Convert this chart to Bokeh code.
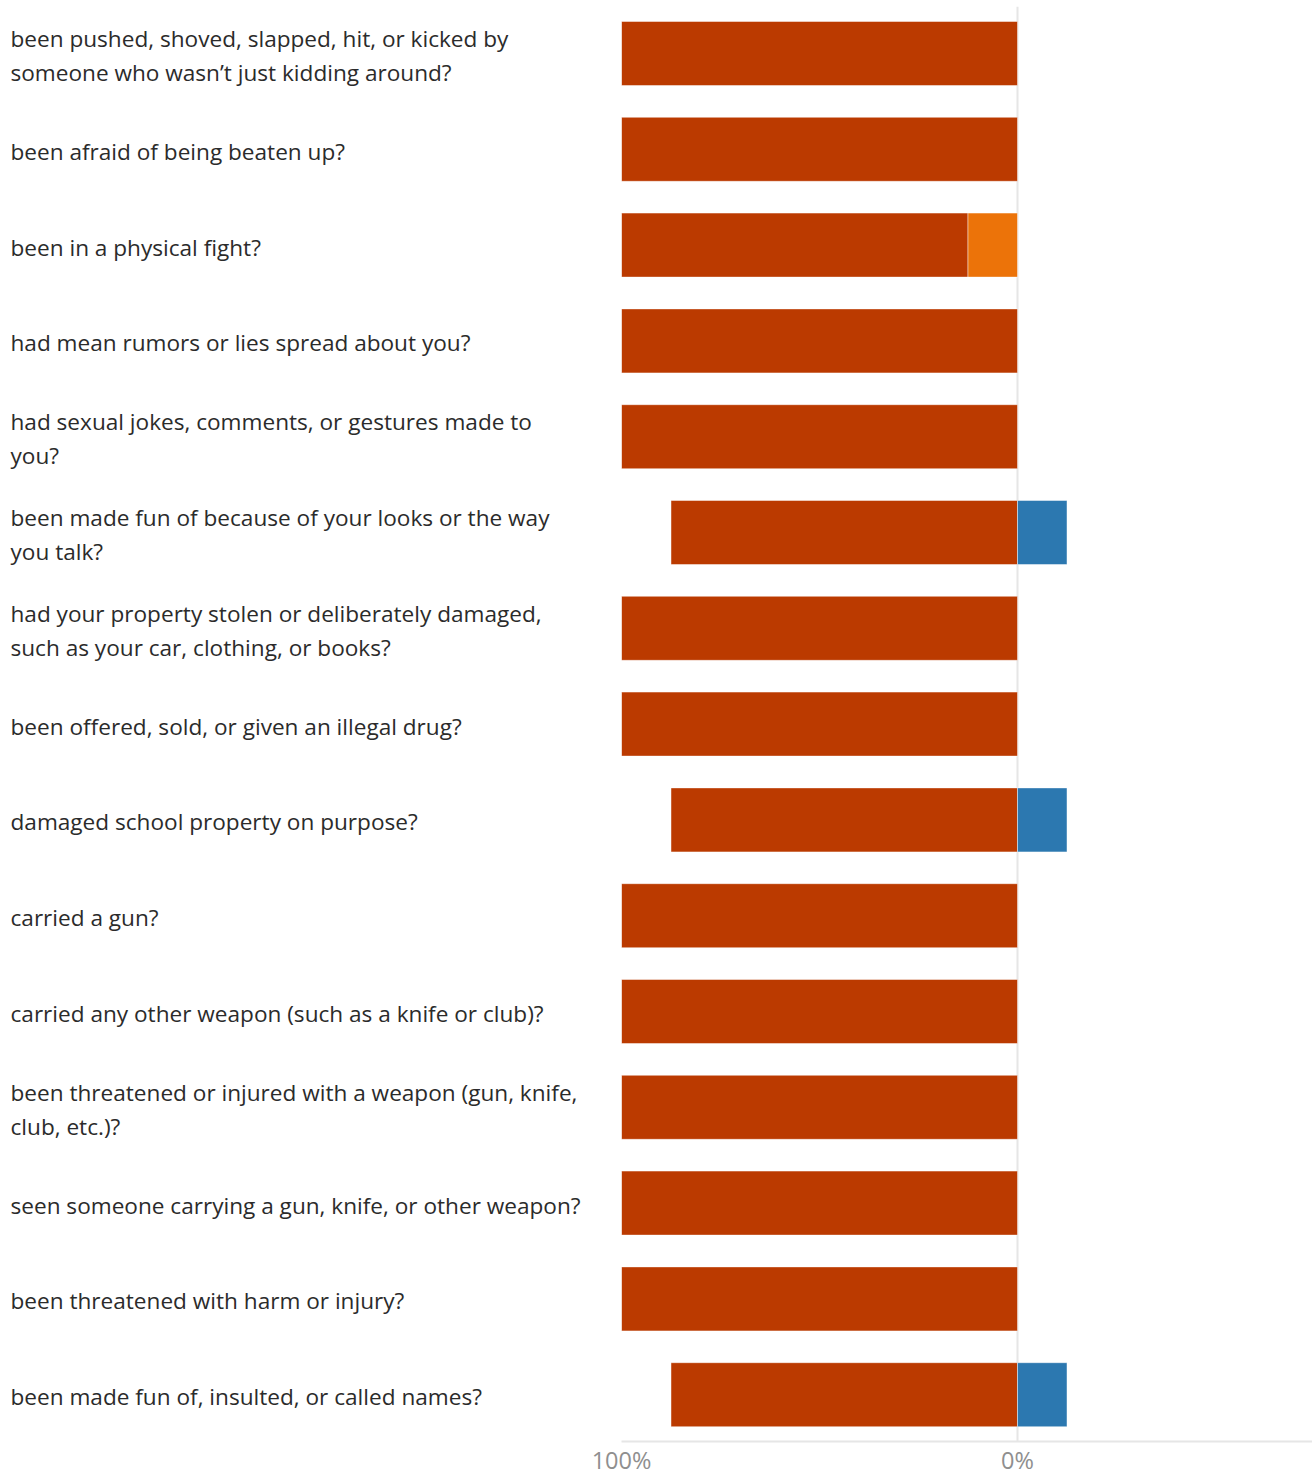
from bokeh.plotting import figure
from bokeh.layouts import row
from bokeh.models import Range1d, FixedTicker, ColumnDataSource
from bokeh.core.properties import value
from bokeh.embed import file_html
from bokeh.resources import INLINE

questions = [
    "been pushed, shoved, slapped, hit, or kicked by\nsomeone who wasn\u2019t just kidding around?",
    "been afraid of being beaten up?",
    "been in a physical fight?",
    "had mean rumors or lies spread about you?",
    "had sexual jokes, comments, or gestures made to\nyou?",
    "been made fun of because of your looks or the way\nyou talk?",
    "had your property stolen or deliberately damaged,\nsuch as your car, clothing, or books?",
    "been offered, sold, or given an illegal drug?",
    "damaged school property on purpose?",
    "carried a gun?",
    "carried any other weapon (such as a knife or club)?",
    "been threatened or injured with a weapon (gun, knife,\nclub, etc.)?",
    "seen someone carrying a gun, knife, or other weapon?",
    "been threatened with harm or injury?",
    "been made fun of, insulted, or called names?",
]

# percent of responses (negative side)
never = [100, 100, 87.5, 100, 100, 87.5, 100, 100, 87.5, 100, 100, 100, 100, 100, 87.5]
once_or_twice = [0, 0, 12.5, 0, 0, 0, 0, 0, 0, 0, 0, 0, 0, 0, 0]
# percent of responses (positive side)
several_times = [0, 0, 0, 0, 0, 12.5, 0, 0, 12.5, 0, 0, 0, 0, 0, 12.5]

tick_values = [-100, 0]
tick_labels = ["100%", "0%"]

C_NEVER = "#BB3A00"
C_ONCE = "#EC7309"
C_SEVERAL = "#2C78B0"

FONT = "Open Sans"
TOP = 6
FRAME_H = 1435
ROW_PX = 95.8
FIRST_PX = 47
BAR_PX = 64
LAB_W = 590
n = len(questions)
y_top = -FIRST_PX / ROW_PX
y_bottom = (FRAME_H - FIRST_PX) / ROW_PX
bar_h = BAR_PX / ROW_PX
ys = list(range(n))

yr = Range1d(start=y_bottom, end=y_top)

# ---- label figure
lab = figure(frame_width=LAB_W, frame_height=FRAME_H, x_range=Range1d(0, LAB_W), y_range=yr,
             x_axis_location=None, y_axis_location=None, toolbar_location=None,
             output_backend="svg", min_border_left=0, min_border_right=0,
             min_border_top=TOP, min_border_bottom=0)
lab.outline_line_color = None
lab.xgrid.visible = False
lab.ygrid.visible = False
lab.text(x=[10] * n, y=ys, text=questions, text_font=value(FONT), text_font_size="22.6px",
         text_color="#2b2b2b", text_align="left", text_baseline="middle",
         text_line_height=1.1, y_offset=2)

# ---- bar figure
PX_PER_UNIT = 3.96
FRAME_W = 691
p = figure(frame_width=FRAME_W, frame_height=FRAME_H,
           x_range=Range1d(-100, -100 + FRAME_W / PX_PER_UNIT), y_range=yr,
           y_axis_location=None, toolbar_location=None, output_backend="svg",
           min_border_left=31, min_border_right=0, min_border_top=TOP)
p.outline_line_color = None
p.ygrid.visible = False
p.xgrid.ticker = FixedTicker(ticks=tick_values)
p.xgrid.grid_line_color = "#e6e6e6"
p.xgrid.grid_line_width = 2

def add_bars(lefts, rights, color):
    idx = [i for i in range(n) if rights[i] - lefts[i] > 0]
    src = ColumnDataSource(dict(y=[ys[i] for i in idx], l=[lefts[i] for i in idx],
                                r=[rights[i] for i in idx]))
    p.hbar(y="y", left="l", right="r", height=bar_h, source=src, fill_color=color,
           line_color="white", line_alpha=0.45, line_width=1)

once_left = [-v for v in once_or_twice]
never_left = [-(a + b) for a, b in zip(once_or_twice, never)]
add_bars(never_left, once_left, C_NEVER)
add_bars(once_left, [0] * n, C_ONCE)
add_bars([0] * n, several_times, C_SEVERAL)

ax = p.xaxis[0]
ax.ticker = FixedTicker(ticks=tick_values)
ax.major_label_overrides = {t: s for t, s in zip(tick_values, tick_labels)}
ax.major_tick_line_color = None
ax.minor_tick_line_color = None
ax.axis_line_color = "#e6e6e6"
ax.axis_line_width = 2
ax.major_label_text_font = FONT
ax.major_label_text_font_size = "23.5px"
ax.major_label_text_color = "#8f8f8f"
ax.major_label_standoff = -4

layout = row(lab, p)
open("out.html", "w").write(file_html(layout, INLINE))
